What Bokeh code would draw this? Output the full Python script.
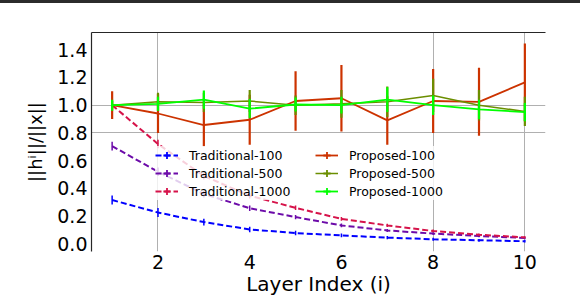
import numpy as np
from bokeh.plotting import figure
from bokeh.models import (Range1d, FixedTicker, LinearAxis, Legend, LegendItem,
                          ColumnDataSource, PrintfTickFormatter)
from bokeh.embed import file_html
from bokeh.resources import INLINE

# ---- data ----
layers = [1, 2, 3, 4, 5, 6, 7, 8, 9, 10]

trad100 = [0.316, 0.226, 0.157, 0.104, 0.078, 0.061, 0.045, 0.033, 0.026, 0.019]
trad100_err = [0.032, 0.033, 0.024, 0.020, 0.016, 0.014, 0.012, 0.011, 0.010, 0.010]
trad500 = [0.705, 0.520, 0.360, 0.257, 0.193, 0.133, 0.097, 0.074, 0.057, 0.043]
trad500_err = [0.032, 0.030, 0.025, 0.020, 0.016, 0.013, 0.011, 0.010, 0.009, 0.008]
trad1000 = [1.000, 0.720, 0.490, 0.347, 0.260, 0.180, 0.133, 0.093, 0.066, 0.047]
trad1000_err = [0.030, 0.030, 0.025, 0.020, 0.016, 0.014, 0.012, 0.010, 0.009, 0.008]

prop100 = [1.000, 0.940, 0.857, 0.895, 1.030, 1.050, 0.890, 1.030, 1.024, 1.164]
prop100_err = [0.100, 0.140, 0.155, 0.180, 0.215, 0.240, 0.175, 0.230, 0.245, 0.280]
prop500 = [1.000, 1.025, 1.020, 1.030, 1.000, 1.010, 1.025, 1.070, 1.000, 0.955]
prop500_err = [0.030, 0.065, 0.070, 0.080, 0.070, 0.100, 0.110, 0.120, 0.110, 0.105]
prop1000 = [1.000, 1.010, 1.040, 0.975, 1.005, 1.000, 1.040, 1.000, 0.970, 0.950]
prop1000_err = [0.040, 0.050, 0.065, 0.070, 0.050, 0.060, 0.090, 0.070, 0.070, 0.065]

series_names = ["Traditional-100", "Traditional-500", "Traditional-1000",
                "Proposed-100", "Proposed-500", "Proposed-1000"]

x_ticks = [2, 4, 6, 8, 10]
y_ticks = [0.0, 0.2, 0.4, 0.6, 0.8, 1.0, 1.2, 1.4]

FONT = "DejaVu Sans"

p = figure(width=580, height=295, output_backend="svg", toolbar_location=None,
           x_range=Range1d(0.55, 10.45), y_range=Range1d(-0.055, 1.524),
           min_border_left=91, min_border_right=35, min_border_top=29,
           min_border_bottom=45,
           styles={"position": "absolute", "top": "0px", "left": "0px",
                   "border-top": "3px solid #2b2b2b"})
p.outline_line_color = None
p.background_fill_color = "white"
p.border_fill_color = "white"

# grid
p.xgrid.ticker = FixedTicker(ticks=[2, 8, 10])
p.ygrid.ticker = FixedTicker(ticks=[0.8, 1.0])
for g in (p.xgrid, p.ygrid):
    g.grid_line_color = "#b0b0b0"
    g.grid_line_width = 1

# axes
xa = p.xaxis[0]
xa.ticker = FixedTicker(ticks=x_ticks)
xa.axis_line_color = None
xa.major_tick_line_color = None
xa.minor_tick_line_color = None
xa.major_tick_out = 0
xa.major_label_standoff = 3
xa.major_label_text_font = FONT
xa.major_label_text_font_size = "19px"
xa.major_label_text_color = "black"
xa.axis_label = "Layer Index (i)"
xa.axis_label_text_font = FONT
xa.axis_label_text_font_size = "20px"
xa.axis_label_text_font_style = "normal"
xa.axis_label_text_color = "black"
xa.axis_label_standoff = 0

ya = p.yaxis[0]
ya.ticker = FixedTicker(ticks=y_ticks)
ya.formatter = PrintfTickFormatter(format="%.1f")
ya.axis_line_color = "#262626"
ya.axis_line_width = 1.2
ya.major_tick_line_color = None
ya.minor_tick_line_color = None
ya.major_tick_out = 0
ya.major_label_standoff = 4
ya.major_label_text_font = FONT
ya.major_label_text_font_size = "19px"
ya.major_label_text_color = "black"
ya.axis_label = "||h\u2071||/||x||"
ya.axis_label_text_font = FONT
ya.axis_label_text_font_size = "18px"
ya.axis_label_text_font_style = "normal"
ya.axis_label_text_color = "black"
ya.axis_label_standoff = 8

top_axis = LinearAxis(ticker=FixedTicker(ticks=[]), axis_line_color="#262626",
                      axis_line_width=1.2, major_tick_line_color=None,
                      minor_tick_line_color=None, major_label_text_font_size="0px")
p.add_layout(top_axis, "above")

styles = [
    (trad100, trad100_err, "#0000ff", 2, "6 3", 1.5),
    (trad500, trad500_err, "#6c0ba9", 2, "6 3", 1.5),
    (trad1000, trad1000_err, "#d6134a", 2, "6 3", 1.5),
    (prop100, prop100_err, "#cc3300", 1.8, "solid", 2.2),
    (prop500, prop500_err, "#6b8e00", 1.5, "solid", 2.2),
    (prop1000, prop1000_err, "#00ff00", 1.8, "solid", 2.2),
]

items = []
for name, (vals, errs, color, lw, dash, ew) in zip(series_names, styles):
    v = np.array(vals)
    e = np.array(errs)
    src = ColumnDataSource(data=dict(x=layers, y=vals, lo=v - e, hi=v + e))
    line_r = p.line("x", "y", source=src, line_color=color, line_width=lw,
                    line_dash=dash)
    p.segment(x0="x", y0="lo", x1="x", y1="hi", source=src, line_color=color,
              line_width=ew)
    # marker used only for the legend key (size 0 on the plot itself)
    mark_r = p.scatter("x", "y", source=src, marker="cross", size=0,
                       line_color=color, line_width=1.8)
    items.append(LegendItem(label=name, renderers=[line_r, mark_r]))

legend = Legend(items=items, ncols=2, location=(64, 51),
                label_text_font=FONT, label_text_font_size="12.5px",
                label_text_color="black",
                glyph_width=23, glyph_height=18, label_height=18,
                label_width=126, label_standoff=11, spacing=0,
                padding=4, margin=0,
                background_fill_color="white", background_fill_alpha=0.8,
                border_line_color=None)
p.add_layout(legend, "center")

open("out.html", "w").write(file_html(p, INLINE))
